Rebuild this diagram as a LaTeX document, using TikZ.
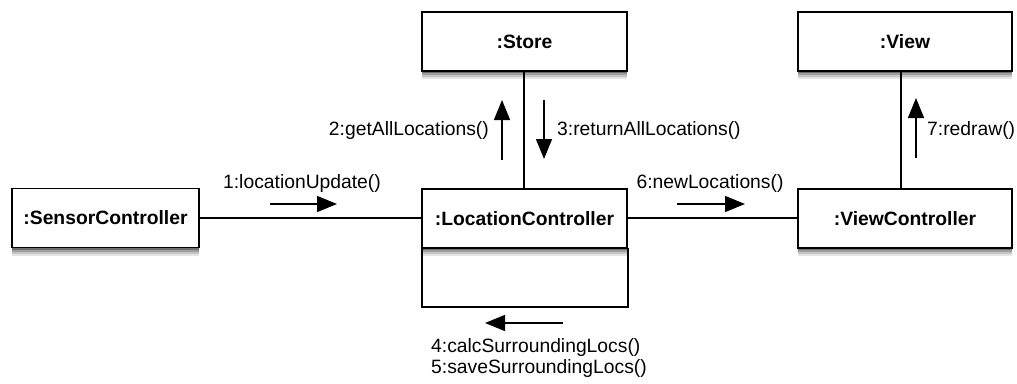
\documentclass[tikz,border=0pt]{standalone}
\usepackage{fontspec}
\setmainfont{Liberation Sans}
\usetikzlibrary{arrows.meta}
\begin{document}
\begin{tikzpicture}[x=1pt,y=-1pt,
  obj/.style={draw=black,line width=1.8pt,fill=white,minimum height=59pt,inner sep=0pt,
    font=\fontsize{19.3}{23}\selectfont\bfseries,
    preaction={draw=none,fill=black,opacity=.10,transform canvas={yshift=-8pt}},
    preaction={draw=none,fill=black,opacity=.14,transform canvas={yshift=-6pt}},
    preaction={draw=none,fill=black,opacity=.20,transform canvas={yshift=-4pt}},
    preaction={draw=none,fill=black,opacity=.30,transform canvas={yshift=-2pt}}},
  link/.style={line width=1.5pt},
  msg/.style={line width=1.5pt,-{Triangle[length=20pt,width=16pt]}},
  lbl/.style={font=\fontsize{19.3}{23}\selectfont,inner sep=0pt}]
\useasboundingbox (0,0) rectangle (1017,383);
% loop rectangle below LocationController
\coordinate (lpA) at (422,248);
\coordinate (lpB) at (422,307);
\coordinate (lpC) at (628,307);
\coordinate (lpD) at (628,248);
\draw[link] (lpA) -- (lpB) -- (lpC) -- (lpD);
% links
\coordinate (sc) at (199,218);
\coordinate (lcw) at (422,218);
\coordinate (lce) at (627,218);
\coordinate (vcw) at (798,218);
\draw[link] (sc) -- (lcw);
\draw[link] (lce) -- (vcw);
\draw[link] (524,71) -- (524,189);
\draw[link] (901,71) -- (901,189);
% objects
\node[obj,minimum width=187pt] (SC) at (105.5,218) {:SensorController};
\node[obj,minimum width=205pt] (ST) at (524.5,41.5) {:Store};
\node[obj,minimum width=205pt] (LC) at (524.5,218.5) {:LocationController};
\node[obj,minimum width=214pt] (VW) at (905,41.5) {:View};
\node[obj,minimum width=214pt] (VC) at (905,218.5) {:ViewController};
% messages
\coordinate (m1a) at (270,204); \coordinate (m1b) at (337,204);
\draw[msg] (m1a) -- (m1b);
\node[lbl] (l1) at (302,184) {1:locationUpdate()};
\coordinate (m2a) at (502,160); \coordinate (m2b) at (502,100);
\draw[msg] (m2a) -- (m2b);
\node[lbl,anchor=east] (l2) at (489,131) {2:getAllLocations()};
\coordinate (m3a) at (544,100); \coordinate (m3b) at (544,159);
\draw[msg] (m3a) -- (m3b);
\node[lbl,anchor=west] (l3) at (557,131) {3:returnAllLocations()};
\coordinate (m4a) at (563,323); \coordinate (m4b) at (485,323);
\draw[msg] (m4a) -- (m4b);
\node[lbl,anchor=west] (l4) at (431,348) {4:calcSurroundingLocs()};
\node[lbl,anchor=west] (l5) at (431,369) {5:saveSurroundingLocs()};
\coordinate (m6a) at (677,204); \coordinate (m6b) at (745,204);
\draw[msg] (m6a) -- (m6b);
\node[lbl] (l6) at (710,184) {6:newLocations()};
\coordinate (m7a) at (916,158); \coordinate (m7b) at (916,98);
\draw[msg] (m7a) -- (m7b);
\node[lbl,anchor=west] (l7) at (927,131) {7:redraw()};
\end{tikzpicture}
\end{document}
